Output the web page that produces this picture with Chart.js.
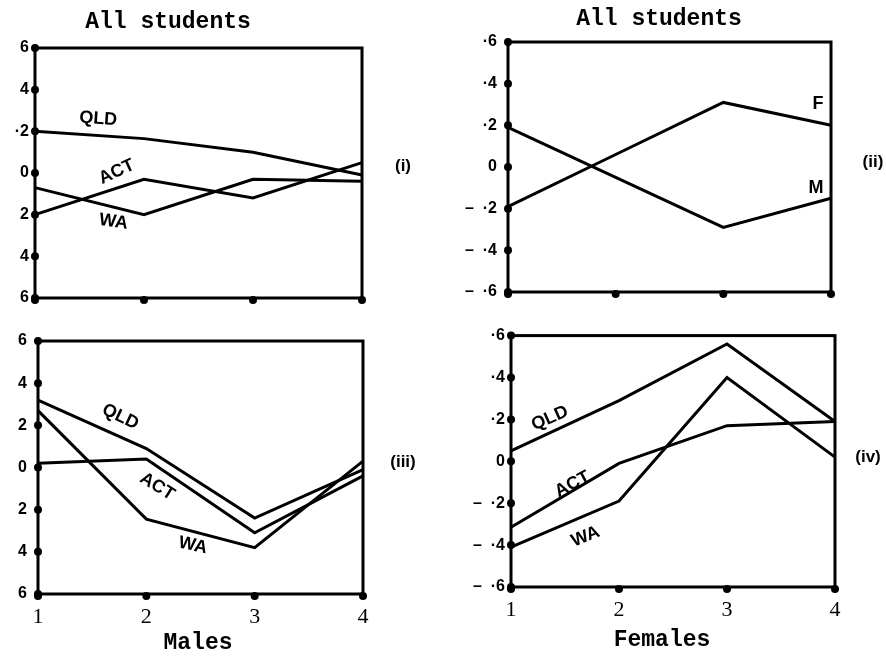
<!DOCTYPE html>
<html>
<head>
<meta charset="utf-8">
<script src="https://cdn.jsdelivr.net/npm/chart.js@4.4.0/dist/chart.umd.min.js"></script>
<style>
  body { margin: 0; background: #fff; }
  .page { position: relative; width: 886px; height: 656px; overflow: hidden; background: #fff; }
  .page canvas { position: absolute; }
  .txt { position: absolute; white-space: nowrap; transform: translate(-50%, -50%); color: #000; }
  .head { font: bold 23px "Liberation Mono", monospace; }
  .tag { font: bold 17px "Liberation Sans", sans-serif; }
</style>
</head>
<body>
<div class="page">
  <canvas id="c1" width="443" height="320" style="left:0;top:0"></canvas>
  <canvas id="c2" width="443" height="320" style="left:443px;top:0"></canvas>
  <canvas id="c3" width="443" height="336" style="left:0;top:320px"></canvas>
  <canvas id="c4" width="443" height="336" style="left:443px;top:320px"></canvas>

  <div class="txt head" style="left:168px;top:22px">All students</div>
  <div class="txt head" style="left:659px;top:19px">All students</div>
  <div class="txt head" style="left:198px;top:643px">Males</div>
  <div class="txt head" style="left:662px;top:640px">Females</div>
  <div class="txt tag" style="left:403px;top:166px">(i)</div>
  <div class="txt tag" style="left:873px;top:162px">(ii)</div>
  <div class="txt tag" style="left:403px;top:462px">(iii)</div>
  <div class="txt tag" style="left:868px;top:457px">(iv)</div>
</div>
<script>
const stages = ['1', '2', '3', '4'];

// (i) all students, by state
const allQLD = [0.20, 0.165, 0.10, -0.01];
const allACT = [-0.20, -0.03, -0.12, 0.05];
const allWA = [-0.07, -0.20, -0.03, -0.04];
// (ii) all students, by sex
const allF = [-0.19, 0.06, 0.31, 0.20];
const allM = [0.19, -0.05, -0.29, -0.15];
// (iii) males
const maleQLD = [0.32, 0.09, -0.24, -0.01];
const maleACT = [0.02, 0.04, -0.31, -0.04];
const maleWA = [0.27, -0.245, -0.38, 0.03];
// (iv) females
const femQLD = [0.05, 0.29, 0.56, 0.19];
const femACT = [-0.315, -0.01, 0.17, 0.19];
const femWA = [-0.41, -0.19, 0.40, 0.02];

// y tick labels as printed, from -0.6 up to 0.6
const yLabels1 = ['6', '4', '2', '0', '·2', '4', '6'];
const yLabels2 = ['–  ·6', '–  ·4', '–  ·2', '0', '·2', '·4', '·6'];
const yLabels3 = ['6', '4', '2', '0', '2', '4', '6'];
const yLabels4 = ['–  ·6', '–  ·4', '–  ·2', '0', '·2', '·4', '·6'];

let dot = (ctx, x, y) => {
    ctx.beginPath();
    ctx.arc(x, y, 4, 0, Math.PI * 2);
    ctx.fill();
}

const boxPlugin = {
    id: 'box',
    afterDraw(chart) {
        const { ctx, chartArea: a } = chart;
        const x = chart.scales.x;
        const y = chart.scales.y;
        ctx.save();
        ctx.strokeStyle = '#000';
        ctx.fillStyle = '#000';
        ctx.lineWidth = 3;
        ctx.strokeRect(a.left, a.top, a.right - a.left, a.bottom - a.top);
        y.ticks.forEach(t => dot(ctx, a.left, y.getPixelForValue(t.value)));
        stages.forEach((s, i) => dot(ctx, x.getPixelForValue(i), a.bottom + 2));
        ctx.restore();
    }
};

// names written along the lines; x is the stage number, y the value
let tagPlugin = (tags) => ({
    id: 'tags',
    afterDatasetsDraw(chart) {
        const { ctx } = chart;
        ctx.save();
        ctx.fillStyle = '#000';
        ctx.font = 'bold 18px "Liberation Sans", sans-serif';
        ctx.textAlign = 'center';
        ctx.textBaseline = 'middle';
        for (const t of tags) {
            ctx.save();
            ctx.translate(chart.scales.x.getPixelForValue(t.x - 1), chart.scales.y.getPixelForValue(t.y));
            ctx.rotate(t.rot * Math.PI / 180);
            ctx.fillText(t.text, 0, 0);
            ctx.restore();
        }
        ctx.restore();
    }
});

let line = (values) => ({
    data: values,
    borderColor: '#000',
    borderWidth: 3,
    pointRadius: 0,
    tension: 0,
    fill: false
});

let makeChart = (id, series, yLabels, yWidth, yPad, padding, showX, tags) => {
    return new Chart(document.getElementById(id), {
        type: 'line',
        data: { labels: stages, datasets: series.map(line) },
        options: {
            responsive: false,
            animation: false,
            layout: { padding: padding },
            plugins: { legend: { display: false }, tooltip: { enabled: false } },
            scales: {
                x: {
                    type: 'category',
                    offset: false,
                    grid: { display: false, drawTicks: false },
                    border: { display: false },
                    ticks: {
                        display: showX,
                        padding: 10,
                        color: '#000',
                        maxRotation: 0,
                        autoSkip: false,
                        font: { family: '"Liberation Serif", serif', size: 22 }
                    },
                    afterFit: (scale) => { scale.height = showX ? 40 : 0; }
                },
                y: {
                    min: -0.6,
                    max: 0.6,
                    grid: { display: false, drawTicks: false },
                    border: { display: false },
                    ticks: {
                        stepSize: 0.2,
                        padding: yPad,
                        color: '#000',
                        font: { family: '"Liberation Sans", sans-serif', size: 16, weight: 'bold' },
                        callback: (v) => yLabels[Math.round((v + 0.6) / 0.2)]
                    },
                    afterFit: (scale) => { scale.width = yWidth; }
                }
            }
        },
        plugins: [boxPlugin, tagPlugin(tags)]
    });
}

makeChart('c1', [allQLD, allACT, allWA], yLabels1, 35, 6,
    { left: 0, top: 48, right: 81, bottom: 22 }, false,
    [{ text: 'QLD', x: 1.58, y: 0.26, rot: 4 },
     { text: 'ACT', x: 1.75, y: 0.005, rot: -25 },
     { text: 'WA', x: 1.72, y: -0.235, rot: 8 }]);

makeChart('c2', [allF, allM], yLabels2, 65, 11,
    { left: 0, top: 42, right: 55, bottom: 28 }, false,
    [{ text: 'F', x: 3.88, y: 0.30, rot: 0 },
     { text: 'M', x: 3.86, y: -0.10, rot: 0 }]);

makeChart('c3', [maleQLD, maleACT, maleWA], yLabels3, 38, 11,
    { left: 0, top: 21, right: 80, bottom: 22 }, true,
    [{ text: 'QLD', x: 1.76, y: 0.24, rot: 25 },
     { text: 'ACT', x: 2.10, y: -0.09, rot: 32 },
     { text: 'WA', x: 2.43, y: -0.37, rot: 12 }]);

makeChart('c4', [femQLD, femACT, femWA], yLabels4, 68, 6,
    { left: 0, top: 14, right: 51, bottom: 29 }, true,
    [{ text: 'QLD', x: 1.36, y: 0.205, rot: -24 },
     { text: 'ACT', x: 1.57, y: -0.11, rot: -28 },
     { text: 'WA', x: 1.69, y: -0.36, rot: -22 }]);
</script>
</body>
</html>
